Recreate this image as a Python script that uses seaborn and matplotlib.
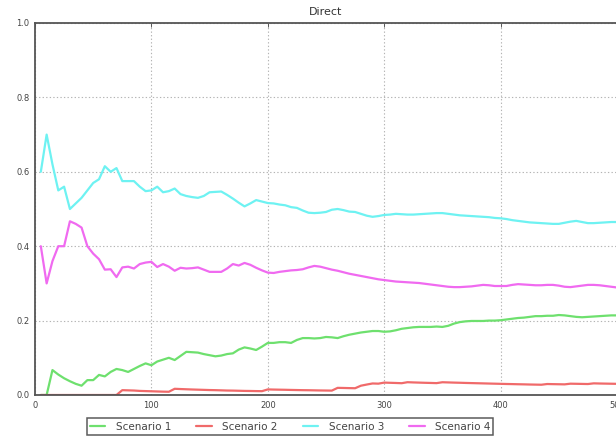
import numpy as np
import pandas as pd
import matplotlib
matplotlib.use("Agg")
import matplotlib.pyplot as plt
import seaborn as sns

# Cumulative rate per scenario, sampled every 5 iterations (5 .. 500)
steps = list(range(5, 505, 5))

scenario_1 = [
    0.0, 0.0, 0.067, 0.055, 0.045, 0.037, 0.03, 0.025, 0.04, 0.04,
    0.054, 0.05, 0.062, 0.07, 0.067, 0.062, 0.07, 0.078, 0.085, 0.08,
    0.09, 0.095, 0.10, 0.094, 0.105, 0.116, 0.115, 0.114, 0.11, 0.107,
    0.104, 0.106, 0.11, 0.112, 0.122, 0.128, 0.125, 0.121, 0.13, 0.14,
    0.14, 0.142, 0.142, 0.14, 0.148, 0.153, 0.153, 0.152, 0.153, 0.156,
    0.155, 0.153, 0.158, 0.162, 0.165, 0.168, 0.17, 0.172, 0.172, 0.17,
    0.171, 0.174, 0.178, 0.18, 0.182, 0.183, 0.183, 0.183, 0.184, 0.183,
    0.186, 0.192, 0.196, 0.198, 0.199, 0.199, 0.199, 0.2, 0.2, 0.201,
    0.203, 0.205, 0.207, 0.208, 0.21, 0.212, 0.212, 0.213, 0.213, 0.215,
    0.214, 0.212, 0.21, 0.209, 0.21, 0.211, 0.212, 0.213, 0.214, 0.214,
]

scenario_2 = [
    0.0, 0.0, 0.0, 0.0, 0.0, 0.0, 0.0, 0.0, 0.0, 0.0,
    0.0, 0.0, 0.0, 0.0, 0.013, 0.0125, 0.012, 0.011, 0.0105, 0.010,
    0.0095, 0.009, 0.0087, 0.0167, 0.016, 0.0154, 0.0148, 0.0143, 0.0138, 0.0133,
    0.013, 0.0125, 0.012, 0.0118, 0.0114, 0.011, 0.0108, 0.0105, 0.0103, 0.015,
    0.0146, 0.0143, 0.014, 0.0136, 0.0133, 0.013, 0.0128, 0.0125, 0.0122, 0.012,
    0.0118, 0.0192, 0.0189, 0.0185, 0.0182, 0.025, 0.0281, 0.031, 0.0305, 0.0333,
    0.0328, 0.0323, 0.0317, 0.0344, 0.0338, 0.0333, 0.0328, 0.0324, 0.0319, 0.0343,
    0.0338, 0.0333, 0.0329, 0.0324, 0.032, 0.0316, 0.0312, 0.0308, 0.0304, 0.030,
    0.0296, 0.0293, 0.0289, 0.0286, 0.0282, 0.0279, 0.0276, 0.0295, 0.0292, 0.0289,
    0.0286, 0.0304, 0.0301, 0.0298, 0.0295, 0.0313, 0.0309, 0.0306, 0.0303, 0.030,
]

scenario_3 = [
    0.60, 0.70, 0.62, 0.55, 0.56, 0.50, 0.515, 0.53, 0.55, 0.57,
    0.58, 0.615, 0.60, 0.61, 0.575, 0.575, 0.575, 0.56, 0.548, 0.55,
    0.56, 0.545, 0.548, 0.555, 0.54, 0.535, 0.532, 0.53, 0.535, 0.545,
    0.546, 0.547, 0.538, 0.528, 0.517, 0.507, 0.515, 0.524, 0.52, 0.516,
    0.515, 0.512, 0.51, 0.505, 0.503, 0.496, 0.49, 0.489, 0.49, 0.492,
    0.498, 0.50, 0.497, 0.493, 0.492, 0.487, 0.482, 0.479, 0.481, 0.484,
    0.485, 0.487, 0.486, 0.485, 0.485, 0.486, 0.487, 0.488, 0.489, 0.489,
    0.487, 0.485, 0.483, 0.482, 0.481, 0.48, 0.479, 0.478, 0.476, 0.475,
    0.473, 0.470, 0.468, 0.466, 0.464, 0.463, 0.462, 0.461, 0.460, 0.460,
    0.463, 0.466, 0.468, 0.465, 0.462, 0.462, 0.463, 0.464, 0.465, 0.465,
]

scenario_4 = [
    0.40, 0.30, 0.36, 0.40, 0.40, 0.467, 0.46, 0.45, 0.40, 0.38,
    0.365, 0.337, 0.338, 0.317, 0.343, 0.345, 0.34, 0.352, 0.356, 0.358,
    0.344, 0.352, 0.345, 0.334, 0.342, 0.34, 0.341, 0.343, 0.337, 0.331,
    0.331, 0.331, 0.34, 0.352, 0.348, 0.355, 0.35, 0.342, 0.335, 0.329,
    0.328, 0.331, 0.333, 0.335, 0.336, 0.338, 0.343, 0.347, 0.345, 0.341,
    0.337, 0.334, 0.33, 0.326, 0.323, 0.32, 0.317, 0.314, 0.311, 0.309,
    0.307, 0.305, 0.304, 0.303, 0.302, 0.301, 0.299, 0.297, 0.295, 0.293,
    0.291, 0.29, 0.29, 0.291, 0.292, 0.294, 0.296, 0.295, 0.293, 0.293,
    0.293, 0.296, 0.298, 0.297, 0.296, 0.295, 0.295, 0.296, 0.296, 0.294,
    0.291, 0.29, 0.292, 0.294, 0.296, 0.296, 0.295, 0.293, 0.291, 0.289,
]

series_names = ["Scenario 1", "Scenario 2", "Scenario 3", "Scenario 4"]
series_colors = ["#6ee06e", "#f06a6a", "#6ef2f2", "#f06af0"]
x_ticks = [0, 100, 200, 300, 400, 500]
y_ticks = [0.0, 0.2, 0.4, 0.6, 0.8, 1.0]

frames = []
for name, vals in zip(series_names, [scenario_1, scenario_2, scenario_3, scenario_4]):
    frames.append(pd.DataFrame({"step": steps, "rate": vals, "scenario": name}))
df = pd.concat(frames, ignore_index=True)

sns.set_style("white")
plt.rcParams["font.family"] = ["DejaVu Sans"]

fig = plt.figure(figsize=(6.16, 4.45), dpi=100)
ax = fig.add_axes([35 / 616, 50 / 445, 582 / 616, 372 / 445])

sns.lineplot(
    data=df, x="step", y="rate", hue="scenario",
    palette=dict(zip(series_names, series_colors)),
    linewidth=1.6, ax=ax, legend=False,
)

ax.set_xlim(0, 500)
ax.set_ylim(0, 1.0)
ax.set_xticks(x_ticks)
ax.set_yticks(y_ticks)
ax.set_xticklabels([str(t) for t in x_ticks])
ax.set_yticklabels([f"{t:.1f}" for t in y_ticks])
ax.set_xlabel("")
ax.set_ylabel("")
ax.set_title("Direct", fontsize=8, color="#333333", pad=5.5)

ax.grid(True, linestyle=(0, (1.2, 2.0)), color="#b4b4b4", linewidth=0.8)
ax.tick_params(direction="in", length=3, width=0.6, labelsize=6,
               colors="#444444", top=True, right=False, pad=4)
for side in ["left", "bottom", "top", "right"]:
    ax.spines[side].set_color("#555555")
    ax.spines[side].set_linewidth(1.3)

handles = [plt.Line2D([], [], color=c, linewidth=1.6) for c in series_colors]
leg = fig.legend(
    handles, series_names, loc="center", bbox_to_anchor=(290 / 616, 18.5 / 445),
    ncol=4, fontsize=7.5, frameon=True, fancybox=False, handlelength=1.5,
    columnspacing=2.4, borderpad=0.3, handletextpad=1.0, borderaxespad=0,
)
leg.get_frame().set_edgecolor("#333333")
leg.get_frame().set_linewidth(1.1)
for t in leg.get_texts():
    t.set_color("#444444")

fig.savefig("out.png", dpi=100)
